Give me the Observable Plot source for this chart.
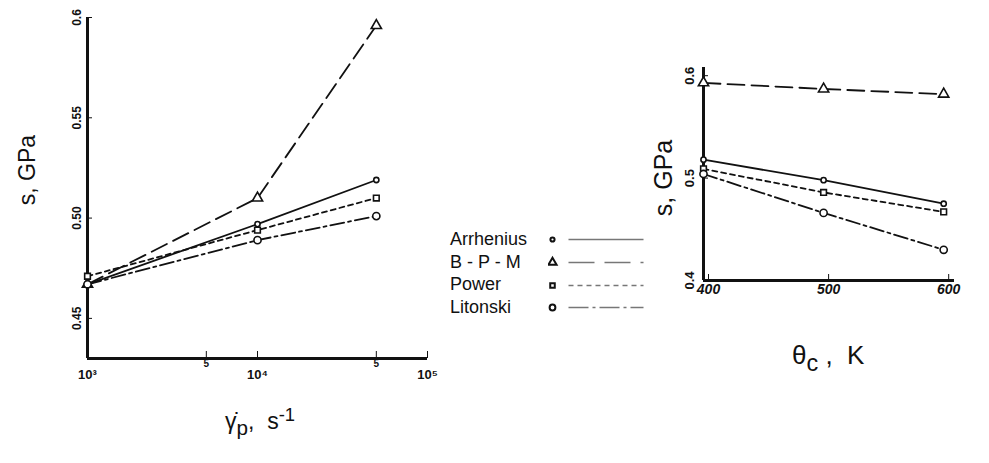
<!DOCTYPE html>
<html><head><meta charset="utf-8">
<script src="https://cdn.jsdelivr.net/npm/d3@7"></script>
<script src="https://cdn.jsdelivr.net/npm/@observablehq/plot@0.6"></script>
<style>
body{margin:0;background:#fff;font-family:"Liberation Sans",Arial,sans-serif;}
#wrap{position:relative;width:989px;height:463px;overflow:hidden;background:#fff;}
.panel{position:absolute;top:0;}
.lab{position:absolute;color:#111;white-space:nowrap;line-height:1;}
.rot{transform:translate(-50%,-50%) rotate(-90deg);}
.lab sub{font-size:0.9em;position:relative;top:0.3em;vertical-align:baseline;}
.lab sup{font-size:0.8em;position:relative;top:-0.45em;vertical-align:baseline;}
#legend{position:absolute;left:450px;top:228px;font-size:18px;color:#111;}
#legend .row{display:flex;align-items:center;height:22.7px;}
#legend .name{width:98px;}
</style></head><body><div id="wrap"></div>
<script>
// ---------- data ----------
const series = ["Arrhenius", "B - P - M", "Power", "Litonski"];

// left panel: strain rate
const rates = [1e3, 1e4, 5e4];
const rateArrhenius = [0.467, 0.497, 0.519];
const rateBPM       = [0.467, 0.510, 0.596];
const ratePower     = [0.471, 0.494, 0.510];
const rateLitonski  = [0.467, 0.489, 0.501];
const rateTicks = [1e3, 5e3, 1e4, 5e4, 1e5];
const rateTickLabels = ["10³", "5", "10⁴", "5", "10⁵"];
const sTicksLeft = [0.45, 0.50, 0.55, 0.6];
const sTickLabelsLeft = ["0.45", "0.50", "0.55", "0.6"];

// right panel: temperature
const temps = [400, 500, 600];
const tempArrhenius = [0.518, 0.498, 0.475];
const tempBPM       = [0.593, 0.587, 0.582];
const tempPower     = [0.509, 0.486, 0.467];
const tempLitonski  = [0.504, 0.466, 0.430];
const tempTicks = [400, 500, 600];
const sTicksRight = [0.4, 0.5, 0.6];
const sTickLabelsRight = ["0.4", "0.5", "0.6"];

// ---------- styles ----------
const styles = {
  "Arrhenius": {dash: null,        symbol: "circle",   r: 2.6},
  "B - P - M": {dash: "17,7",      symbol: "triangle", r: 3.8},
  "Power":     {dash: "5,4",       symbol: "square",   r: 3.2},
  "Litonski":  {dash: "14,4,3,4",  symbol: "circle",   r: 3.6}
};

function rows(xs, cols) {
  return series.flatMap(s => xs.map((x, i) => ({series: s, x, v: cols[s][i]})));
}
const leftData = rows(rates, {"Arrhenius": rateArrhenius, "B - P - M": rateBPM, "Power": ratePower, "Litonski": rateLitonski});
const rightData = rows(temps, {"Arrhenius": tempArrhenius, "B - P - M": tempBPM, "Power": tempPower, "Litonski": tempLitonski});
const rateTickRows = rateTicks.map((t, i) => ({t, label: rateTickLabels[i]}));

function seriesMarks(data) {
  return series.flatMap(s => {
    const d = data.filter(r => r.series === s);
    const st = styles[s];
    return [
      Plot.line(d, {x: "x", y: "v", stroke: "#111", strokeWidth: 1.8, strokeDasharray: st.dash}),
      Plot.dot(d, {x: "x", y: "v", symbol: () => st.symbol, r: st.r, fill: "white", stroke: "#111", strokeWidth: 1.6})
    ];
  });
}

const wrap = document.getElementById("wrap");

// ---------- left panel ----------
const left = Plot.plot({
  width: 450, height: 463,
  marginLeft: 87, marginRight: 23, marginTop: 17, marginBottom: 105,
  style: {background: "transparent", fontFamily: "Liberation Sans, Arial, sans-serif", color: "#111"},
  x: {type: "log", domain: [1e3, 1e5]},
  y: {domain: [0.43, 0.6]},
  marks: [
    Plot.axisY(sTicksLeft, {tickFormat: d => sTickLabelsLeft[sTicksLeft.indexOf(d)], tickRotate: -90, tickSize: -5, tickPadding: 12, fontSize: 12, fontWeight: "bold", fill: "#111", label: null}),
    Plot.axisX(rateTicks, {tickFormat: () => "", tickSize: -7, label: null}),
    Plot.text(rateTickRows.filter(d => d.label !== "5"), {x: "t", text: "label", frameAnchor: "bottom", dy: 20, fontSize: 13, fontWeight: "bold", fill: "#111"}),
    Plot.text(rateTickRows.filter(d => d.label === "5"), {x: "t", text: "label", frameAnchor: "bottom", dy: 8, fontSize: 10, fontWeight: "bold", fill: "#111"}),
    Plot.ruleX([1e3], {stroke: "#111", strokeWidth: 3}),
    Plot.ruleY([0.43], {stroke: "#111", strokeWidth: 3}),
    ...seriesMarks(leftData)
  ]
});
left.classList.add("panel");
left.style.left = "0px";
wrap.appendChild(left);

// ---------- right panel ----------
const right = Plot.plot({
  width: 389, height: 463,
  marginLeft: 103, marginRight: 35, marginTop: 67, marginBottom: 183,
  style: {background: "transparent", fontFamily: "Liberation Sans, Arial, sans-serif", color: "#111"},
  x: {domain: [400, 609]},
  y: {domain: [0.4, 0.608]},
  marks: [
    Plot.axisY(sTicksRight, {tickFormat: d => sTickLabelsRight[sTicksRight.indexOf(d)], tickRotate: -90, tickSize: -5, tickPadding: 15, fontSize: 13, fontWeight: "bold", fill: "#111", label: null}),
    Plot.axisX(tempTicks, {tickSize: -6, tickPadding: 10, fontSize: 14, fontWeight: "bold", fontStyle: "italic", fill: "#111", label: null, dx: 5}),
    Plot.ruleX([400], {stroke: "#111", strokeWidth: 3}),
    Plot.ruleY([0.4], {stroke: "#111", strokeWidth: 3}),
    ...seriesMarks(rightData)
  ]
});
right.classList.add("panel");
right.style.left = "600px";
wrap.appendChild(right);

// ---------- axis titles ----------
function label(html, css, cls) {
  const el = document.createElement("div");
  el.className = "lab" + (cls ? " " + cls : "");
  el.innerHTML = html;
  Object.assign(el.style, css);
  wrap.appendChild(el);
}
label("s, GPa", {left: "27px", top: "170px", fontSize: "23px"}, "rot");
label("s, GPa", {left: "663px", top: "178px", fontSize: "25px"}, "rot");
label("γ̇<sub>p</sub>, &nbsp;s<sup>-1</sup>", {left: "225px", top: "410px", fontSize: "23px"});
label("θ<sub>c</sub> , &nbsp;K", {left: "792px", top: "342px", fontSize: "26px"});

// ---------- legend ----------
const legend = document.createElement("div");
legend.id = "legend";
series.forEach(s => {
  const st = styles[s];
  const row = document.createElement("div");
  row.className = "row";
  const name = document.createElement("div");
  name.className = "name";
  name.textContent = s;
  row.appendChild(name);
  const sw = Plot.plot({
    width: 100, height: 14, margin: 0,
    style: {background: "transparent"},
    x: {domain: [0, 1], axis: null},
    y: {domain: [0, 1], axis: null},
    marks: [
      Plot.link([0], {x1: 0.2, x2: 0.95, y1: 0.5, y2: 0.5, stroke: "#777", strokeWidth: 1.3, strokeDasharray: s === "Litonski" ? "20,4,3,4" : s === "B - P - M" ? "26,10" : st.dash}),
      Plot.dot([0], {x: 0.04, y: 0.5, symbol: () => st.symbol, r: st.r * 0.8, fill: "white", stroke: "#111", strokeWidth: 2})
    ]
  });
  row.appendChild(sw);
  legend.appendChild(row);
});
wrap.appendChild(legend);
</script></body></html>
